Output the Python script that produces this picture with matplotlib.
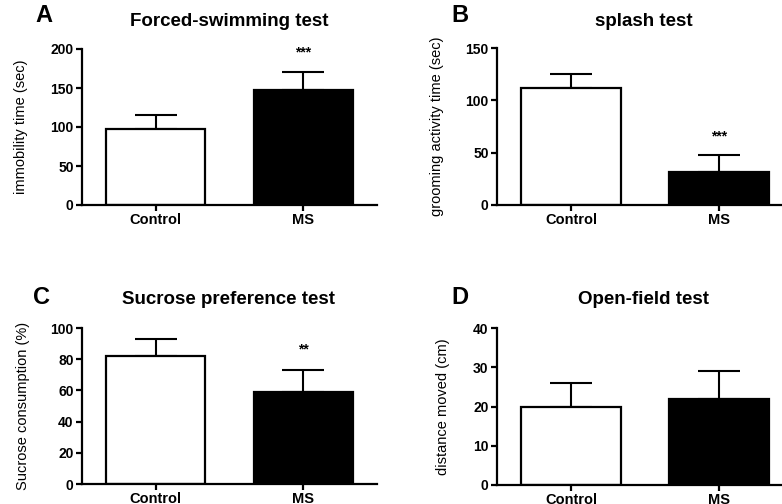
import matplotlib.pyplot as plt
import numpy as np

groups = ['Control', 'MS']

fst_mean = [97, 147]
fst_err = [18, 23]

splash_mean = [112, 32]
splash_err = [13, 16]

sucrose_mean = [82, 59]
sucrose_err = [11, 14]

openfield_mean = [20, 22]
openfield_err = [6, 7]

panels = [
    # letter, title, ylabel, means, errs, ymax, ystep, stars, star_y
    ('A', 'Forced-swimming test', 'immobility time (sec)', fst_mean, fst_err, 200, 50, '***', 195),
    ('B', 'splash test', 'grooming activity time (sec)', splash_mean, splash_err, 150, 50, '***', 65),
    ('C', 'Sucrose preference test', 'Sucrose consumption (%)', sucrose_mean, sucrose_err, 100, 20, '**', 86),
    ('D', 'Open-field test', 'distance moved (cm)', openfield_mean, openfield_err, 40, 10, '', 0),
]

W, H = 782, 504
# axes boxes in pixels: left, top(y of ymax), width, bottom(y of 0)
boxes = [(82, 49, 295, 205), (497, 48, 296, 205), (82, 328, 295, 484), (497, 328, 296, 485)]
title_pos = [(229, 22), (644, 21), (229, 300), (644, 300)]
letter_pos = [(44, 16), (460, 16), (42, 298), (460, 298)]
# right edge of the rotated y label, in pixels
ylabel_x = [28, 444, 30, 450]

narrow = ['Liberation Sans Narrow', 'Liberation Sans', 'DejaVu Sans']
plt.rcParams['font.family'] = ['Liberation Sans', 'DejaVu Sans']

fig = plt.figure(figsize=(W / 100, H / 100), dpi=100)

for i, (letter, title, ylab, means, errs, ymax, ystep, stars, star_y) in enumerate(panels):
    l, t, w, b = boxes[i]
    ax = fig.add_axes([l / W, (H - b) / H, w / W, (b - t) / H])
    x = np.arange(len(groups))
    ax.bar(x, means, width=0.67, color=['white', 'black'], edgecolor='black', linewidth=1.6, zorder=2)
    ax.errorbar(x, means, yerr=[np.zeros(len(errs)), errs], fmt='none', ecolor='black',
                elinewidth=1.5, capsize=15, capthick=1.5, zorder=1)
    ax.set_xlim(-0.5, 1.5)
    ax.set_ylim(0, ymax)
    ax.set_yticks(np.arange(0, ymax + 1, ystep))
    ax.set_xticks(x)
    ax.set_xticklabels(groups, fontsize=10.5, fontweight='bold')
    for lab in ax.get_yticklabels():
        lab.set_fontweight('bold')
        lab.set_fontsize(10)
    ax.spines['top'].set_visible(False)
    ax.spines['right'].set_visible(False)
    ax.spines['left'].set_linewidth(1.6)
    ax.spines['bottom'].set_linewidth(1.6)
    ax.tick_params(axis='both', width=1.6, length=4.5, pad=1.5)
    ax.set_ylabel(ylab, fontsize=10.5, family=narrow)
    ax.yaxis.set_label_coords((ylabel_x[i] - l) / w, 0.5)
    if stars:
        ax.text(1, star_y, stars, ha='center', va='center', fontsize=10, fontweight='bold')
    tx, ty = title_pos[i]
    fig.text(tx / W, 1 - ty / H, title, ha='center', va='center', fontsize=13.5, fontweight='bold')
    lx, ly = letter_pos[i]
    fig.text(lx / W, 1 - ly / H, letter, ha='center', va='center', fontsize=17, fontweight='bold')

fig.savefig('out.png', dpi=100)
